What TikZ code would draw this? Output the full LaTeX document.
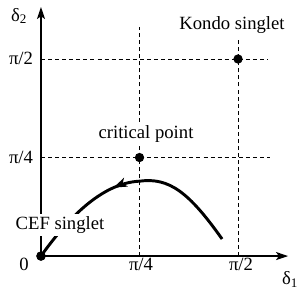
\documentclass[tikz,border=0pt]{standalone}
\usepackage{fontspec}
\setmainfont{Liberation Serif}
\usetikzlibrary{arrows.meta,positioning,decorations.markings}

\begin{document}
\begin{tikzpicture}[x=73.9pt,y=73.9pt,
  font=\fontsize{14}{16}\selectfont,
  axis/.style={-{Stealth[length=9pt,width=6pt,inset=2pt]},line width=1pt},
  guide/.style={line width=0.75pt,dash pattern=on 3pt off 2.3pt},
  state/.style={circle,fill=black,inner sep=0pt,minimum size=7pt},
  lbl/.style={inner sep=1.5pt},
  tag/.style={fill=white,inner sep=2pt},
  flowline/.style={line width=2.2pt,
    decoration={markings,mark=at position 0.57 with
      {\arrow{Stealth[length=10pt,width=7pt,inset=2.5pt]}}},
    postaction={decorate}}]
\useasboundingbox (-0.416,-0.355) rectangle (2.629,2.599);

% axes
\node[state] (orig) at (0,0) {};
\coordinate (xtip) at (2.508,0);
\coordinate (ytip) at (0,2.528);
\draw[axis] (orig.center)--(xtip);
\draw[axis] (orig.center)--(ytip);

% guide lines
\coordinate (q1top) at (1,2.325);
\coordinate (q2top) at (2,2.213);
\coordinate (q1end) at (2.325,1);
\coordinate (q2end) at (2.305,2);
\draw[guide] (1,0)--(q1top);
\draw[guide] (2,0)--(q2top);
\draw[guide] (0,1)--(q1end);
\draw[guide] (0,2)--(q2end);

% fixed points
\node[state] (crit) at (1,1) {};
\node[state] (kondo) at (2,2) {};
\node[tag] (crit_lbl) at (1.066,1.239) {critical point};
\node[tag] (kondo_lbl) at (1.939,2.345) {Kondo singlet};

% flow
\coordinate (flow_start) at (1.838,0.173);
\draw[flowline] (flow_start) .. controls (1.5,0.65) and (1.3,0.8) .. (1,0.76)
  .. controls (0.6,0.74) and (0.25,0.35) .. (orig.center);
\node[state] at (orig) {};
\node[tag] (cef_lbl) at (0.193,0.315) {CEF singlet};

% tick labels
\node[lbl] (d2) at (-0.223,2.437) {δ\textsubscript{2}};
\node[lbl] (d1) at (2.528,-0.234) {δ\textsubscript{1}};
\node[lbl] (y_half) at (-0.203,2.01) {π/2};
\node[lbl] (y_quarter) at (-0.203,1.005) {π/4};
\node[lbl] (zero) at (-0.173,-0.081) {0};
\node[lbl] (x_quarter) at (1.015,-0.081) {π/4};
\node[lbl] (x_half) at (2.03,-0.081) {π/2};
\end{tikzpicture}
\end{document}
